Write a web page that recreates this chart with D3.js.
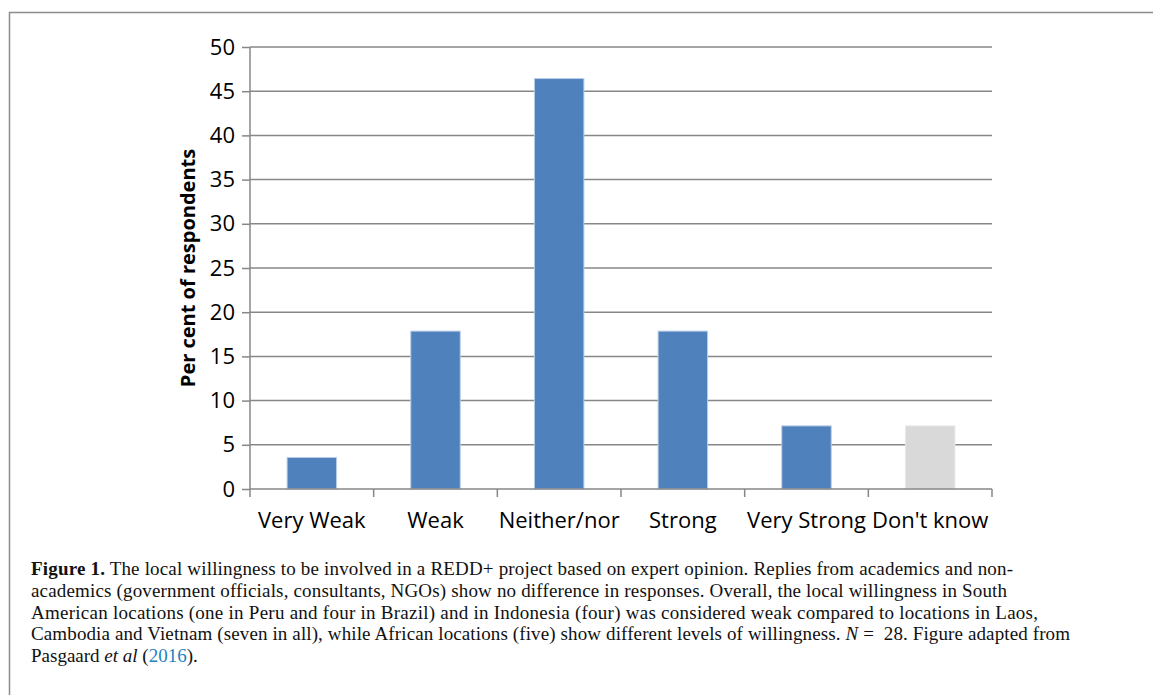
<!DOCTYPE html>
<html>
<head>
<meta charset="utf-8">
<script src="https://cdn.jsdelivr.net/npm/d3@7"></script>
<style>
  html, body { margin: 0; padding: 0; background: #fff; }
  svg { display: block; }
</style>
</head>
<body>
<svg id="chart" width="1153" height="695"></svg>
<script>
// Responses to "local willingness" question (per cent of 28 respondents)
const categories = ["Very Weak", "Weak", "Neither/nor", "Strong", "Very Strong", "Don't know"];
const percentValues = [3.57, 17.86, 46.43, 17.86, 7.14, 7.14];
const yTickValues = [0, 5, 10, 15, 20, 25, 30, 35, 40, 45, 50];
const yAxisTitle = "Per cent of respondents";

const svg = d3.select("#chart");
const W = 1153, H = 695;

// Frame lines along the top and left of the figure
svg.append("line").attr("x1", 9).attr("x2", W).attr("y1", 12.5).attr("y2", 12.5)
  .attr("stroke", "#8c8c8c").attr("stroke-width", 1.5);
svg.append("line").attr("x1", 9.5).attr("x2", 9.5).attr("y1", 12).attr("y2", H)
  .attr("stroke", "#8c8c8c").attr("stroke-width", 1.5);

const plot = { left: 250, right: 992, top: 47, bottom: 489 };

const x = d3.scaleBand().domain(categories).range([plot.left, plot.right])
  .paddingInner(0.6).paddingOuter(0.3);
const xOuter = d3.scaleBand().domain(categories).range([plot.left, plot.right]);
const y = d3.scaleLinear().domain([0, 50]).range([plot.bottom, plot.top]);

const gridColor = "#878787";
const fontFamily = "'Open Sans', 'Noto Sans', sans-serif";

// Horizontal gridlines
svg.append("g").selectAll("line").data(yTickValues.filter(d => d > 0)).join("line")
  .attr("x1", plot.left).attr("x2", plot.right)
  .attr("y1", d => y(d)).attr("y2", d => y(d))
  .attr("stroke", gridColor).attr("stroke-width", 1.5);

// Bars
svg.append("g").selectAll("rect").data(categories).join("rect")
  .attr("x", d => x(d))
  .attr("width", x.bandwidth())
  .attr("y", (d, i) => y(percentValues[i]))
  .attr("height", (d, i) => y(0) - y(percentValues[i]))
  .attr("fill", d => d === "Don't know" ? "#d9d9d9" : "#4f81bd")
  .attr("stroke", d => d === "Don't know" ? "#e8e8e8" : "#b9cde5")
  .attr("stroke-width", 1);

// Y axis
const yAxis = d3.axisLeft(y).tickValues(yTickValues).tickSize(8).tickPadding(7);
const gy = svg.append("g").attr("transform", `translate(${plot.left},0)`).call(yAxis);
gy.select(".domain").attr("stroke", gridColor).attr("stroke-width", 1.5)
  .attr("d", `M0,${plot.top}V${plot.bottom}`);
gy.selectAll(".tick line").attr("stroke", gridColor).attr("stroke-width", 1.5);
gy.selectAll(".tick text").attr("font-family", fontFamily).attr("font-size", 22)
  .attr("fill", "#000");

// X axis: ticks sit on category boundaries
const boundaries = categories.map(c => xOuter(c)).concat([plot.right]);
svg.append("line").attr("x1", plot.left).attr("x2", plot.right)
  .attr("y1", plot.bottom).attr("y2", plot.bottom)
  .attr("stroke", gridColor).attr("stroke-width", 1.5);
svg.append("g").selectAll("line").data(boundaries).join("line")
  .attr("x1", d => d).attr("x2", d => d)
  .attr("y1", plot.bottom).attr("y2", plot.bottom + 8)
  .attr("stroke", gridColor).attr("stroke-width", 1.5);
svg.append("g").selectAll("text").data(categories).join("text")
  .attr("x", d => xOuter(d) + xOuter.bandwidth() / 2)
  .attr("y", 528)
  .attr("text-anchor", "middle")
  .attr("font-family", fontFamily).attr("font-size", 22).attr("fill", "#000")
  .text(d => d);

// Y axis title
svg.append("text")
  .attr("transform", `translate(195,${(plot.top + plot.bottom) / 2}) rotate(-90)`)
  .attr("text-anchor", "middle")
  .attr("font-family", fontFamily).attr("font-size", 20).attr("font-weight", "bold")
  .attr("fill", "#000")
  .text(yAxisTitle);

// Caption
const captionLines = [
  { width: 982, parts: [
    { t: "Figure 1.", b: true },
    { t: " The local willingness to be involved in a REDD+ project based on expert opinion. Replies from academics and non-" }] },
  { width: 976, parts: [
    { t: "academics (government officials, consultants, NGOs) show no difference in responses. Overall, the local willingness in South" }] },
  { width: 1007, parts: [
    { t: "American locations (one in Peru and four in Brazil) and in Indonesia (four) was considered weak compared to locations in Laos," }] },
  { width: 1039, parts: [
    { t: "Cambodia and Vietnam (seven in all), while African locations (five) show different levels of willingness. " },
    { t: "N", i: true }, { t: " =  28. Figure adapted from" }] },
  { width: null, parts: [
    { t: "Pasgaard " }, { t: "et al", i: true }, { t: " (" }, { t: "2016", c: "#1f82c0" }, { t: ")." }] }
];

const cap = svg.append("g");
captionLines.forEach((line, li) => {
  const txt = cap.append("text")
    .attr("x", 31).attr("y", 575 + li * 21.8)
    .attr("font-family", "'Liberation Serif', 'DejaVu Serif', serif")
    .attr("font-size", 19).attr("fill", "#111")
    .attr("xml:space", "preserve");
  line.parts.forEach(p => {
    txt.append("tspan")
      .attr("font-weight", p.b ? "bold" : null)
      .attr("font-style", p.i ? "italic" : null)
      .attr("fill", p.c || null)
      .text(p.t);
  });
  if (line.width) {
    txt.attr("textLength", line.width).attr("lengthAdjust", "spacing");
  }
});
</script>
</body>
</html>
